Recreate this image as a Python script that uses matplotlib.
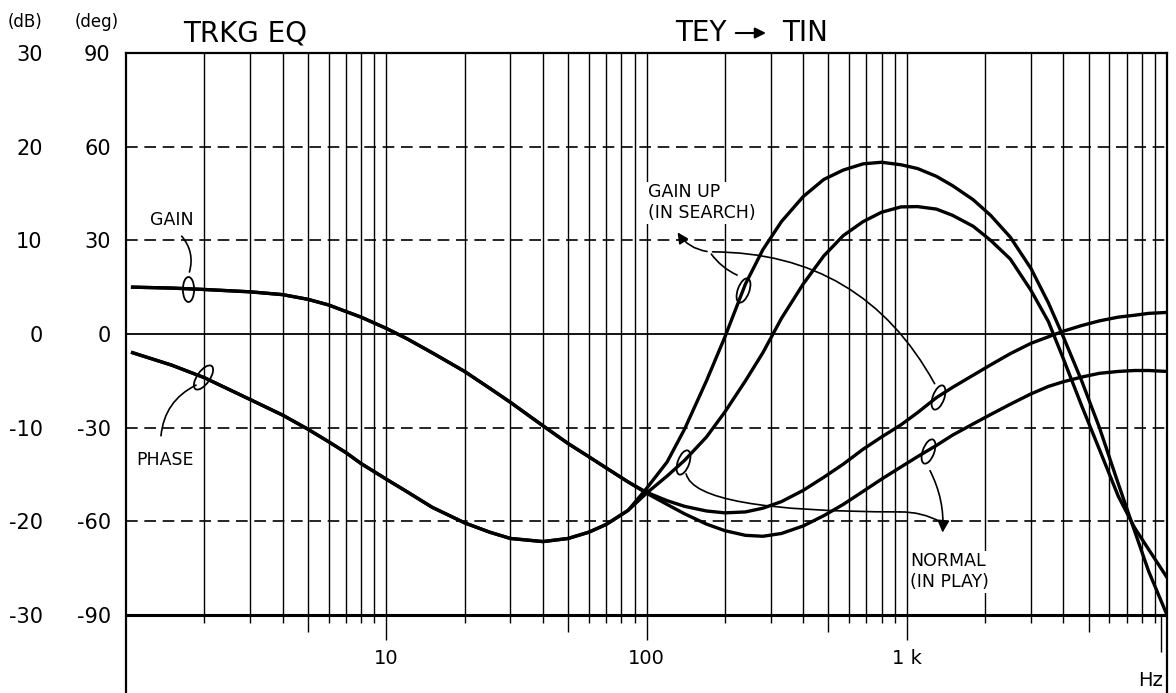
import numpy as np
import matplotlib.pyplot as plt
from matplotlib.path import Path
from matplotlib.transforms import Affine2D

# frequency points (Hz) shared by all four curves
freq = [1.06, 1.5, 2, 3, 4, 5, 6, 7, 8, 10, 12, 15, 20, 25, 30, 40, 50, 60, 70, 85,
        100, 120, 140, 170, 200, 240, 280, 330, 400, 480, 570, 680, 800, 950,
        1100, 1300, 1500, 1800, 2100, 2500, 3000, 3500, 4000, 4700, 5500, 6500,
        7500, 8500, 10000]

# gain (dB)
gain_low = [5.0, 4.9, 4.75, 4.5, 4.2, 3.7, 3.1, 2.4, 1.8, 0.6, -0.5, -2.0, -4.0, -5.8,
            -7.3, -9.8, -11.7, -13.1, -14.3, -15.8]
gain_normal = gain_low + [
    -17.0, -18.2, -19.2, -20.3, -21.0, -21.5, -21.6, -21.3, -20.5, -19.4, -18.2,
    -16.8, -15.5, -14.2, -13.1, -11.9, -10.8, -9.6, -8.6, -7.5, -6.4, -5.6, -5.1,
    -4.6, -4.2, -4.0, -3.9, -3.9, -4.0]
gain_up = gain_low + [
    -16.9, -17.8, -18.4, -18.9, -19.1, -19.0, -18.6, -17.9, -16.7, -15.3, -13.9,
    -12.3, -11.0, -9.7, -8.4, -6.8, -5.7, -4.4, -3.3, -2.1, -1.0, -0.3, 0.3,
    0.9, 1.4, 1.8, 2.0, 2.2, 2.3]

# phase (deg)
phase_low = [-6, -10, -14, -21, -26, -30.5, -34.5, -38, -41.5, -46.5, -50.5, -55.5, -60.5,
             -63.5, -65.5, -66.5, -65.5, -63.5, -61, -56.5]
phase_normal = phase_low + [
    -51, -45.5, -40.5, -33, -25, -15, -6, 5, 16, 25, 31.5, 36, 39, 40.7, 40.8, 40,
    38, 34.5, 30, 24, 14, 4, -8, -23, -37, -52, -62, -69, -78]
phase_up = phase_low + [
    -49.5, -41, -30.5, -15, -1, 16, 27, 36, 44, 49.5, 52.5, 54.5, 55, 54.2, 53, 50.5,
    47.5, 43, 38, 31, 21, 10, -1, -15, -30, -48, -63, -76, -90]

deg_ticks = [90, 60, 30, 0, -30, -60, -90]
db_ticks = [30, 20, 10, 0, -10, -20, -30]
decade_labels = {10: '10', 100: '100', 1000: '1 k'}

fig = plt.figure(figsize=(11.76, 6.93), dpi=100)
ax = fig.add_axes([126 / 1176, 0, 1041 / 1176, 640 / 693])
ax.set_xscale('log')
ax.set_xlim(1, 1e4)
ax.set_ylim(-115, 90)
ax.spines['bottom'].set_visible(False)
for s in ['top', 'left', 'right']:
    ax.spines[s].set_linewidth(1.6)
ax.tick_params(axis='x', which='both', length=0, labelbottom=False)

# vertical grid with short ticks under the -90 line
for dec in [1, 10, 100, 1000]:
    for m in range(1, 10):
        f = m * dec
        if f <= 1 or f >= 1e4:
            continue
        ax.vlines(f, -90, 90, color='black', lw=1.0, zorder=1)
        low = -98 if m == 1 else (-95.5 if m == 5 else -92.5)
        ax.vlines(f, low, -90, color='black', lw=1.0, zorder=1)
for f, lab in decade_labels.items():
    ax.text(f, -104, lab, ha='center', va='center', fontsize=14)
ax.text(8650, -111, 'Hz', ha='center', va='center', fontsize=14)
ax.vlines(9500, -90, -102, color='black', lw=1.0)

# horizontal grid
for y in [60, 30, -30, -60]:
    ax.axhline(y, color='black', lw=1.2, dashes=(7, 4), zorder=1)
ax.axhline(0, color='black', lw=1.3, zorder=1)
ax.axhline(-90, color='black', lw=2.2, zorder=1)

ax.set_yticks(deg_ticks)
ax.set_yticklabels([str(v) for v in deg_ticks])
ax.tick_params(axis='y', length=0, pad=11, labelsize=15)

# gain on its own dB scale, same vertical extent
ax2 = ax.twinx()
ax2.set_ylim(-115 / 3, 30)
for s in ax2.spines.values():
    s.set_visible(False)
ax2.yaxis.tick_left()
ax2.set_yticks(db_ticks)
ax2.set_yticklabels([str(v) for v in db_ticks])
ax2.tick_params(axis='y', length=0, pad=60, labelsize=15)

lw = 2.4
ax.plot(freq, phase_normal, color='black', lw=lw, zorder=4)
ax.plot(freq, phase_up, color='black', lw=lw, zorder=4)
ax2.plot(freq, gain_normal, color='black', lw=lw, zorder=4)
ax2.plot(freq, gain_up, color='black', lw=lw, zorder=4)


def oval(angle=0):
    return Path.unit_circle().transformed(Affine2D().scale(0.45, 1).rotate_deg(angle))


def on_curve(f, xs, ys):
    return np.interp(np.log10(f), np.log10(xs), ys)


ring = dict(color='black', ls='none', markersize=18, markerfacecolor='none',
            markeredgewidth=1.3, zorder=6)
ax2.plot(1.73, on_curve(1.73, freq, gain_normal), marker=oval(), **ring)
ax.plot(1.98, on_curve(1.98, freq, phase_normal), marker=oval(-35), **ring)
ax.plot(235, on_curve(235, freq, phase_up), marker=oval(-20), **ring)
ax2.plot(1316, on_curve(1316, freq, gain_up), marker=oval(-20), **ring)
ax.plot(138, on_curve(138, freq, phase_normal), marker=oval(-20), **ring)
ax2.plot(1205, on_curve(1205, freq, gain_normal), marker=oval(-20), **ring)

box = dict(facecolor='white', edgecolor='none', pad=1)
thin = dict(arrowstyle='-', color='black', lw=1.2)

ax.text(1.50, 36.5, 'GAIN', ha='center', va='center', fontsize=12.5, bbox=box, zorder=3)
ax.annotate('', xy=(1.74, 19), xytext=(1.61, 32),
            arrowprops=dict(connectionstyle='arc3,rad=-0.3', **thin))
ax.text(1.41, -40.4, 'PHASE', ha='center', va='center', fontsize=12.5, bbox=box, zorder=3)
ax.annotate('', xy=(1.90, -16), xytext=(1.36, -33.5),
            arrowprops=dict(connectionstyle='arc3,rad=-0.3', **thin))

ax.text(101, 42, 'GAIN UP\n(IN SEARCH)', ha='left', va='center', fontsize=12.5,
        linespacing=1.2, bbox=box, zorder=3)
ax.annotate('', xy=(130, 33.3), xytext=(175, 26.3),
            arrowprops=dict(arrowstyle='-|>', color='black', lw=1.2, mutation_scale=16,
                            connectionstyle='arc3,rad=-0.25'))
ax.annotate('', xy=(228, 18.5), xytext=(175, 26.3),
            arrowprops=dict(connectionstyle='arc3,rad=0.15', **thin))
ax.annotate('', xy=(1295, -16.7), xytext=(175, 26.3),
            arrowprops=dict(connectionstyle='arc3,rad=-0.3', **thin))

ax.text(1032, -76.2, 'NORMAL\n(IN PLAY)', ha='left', va='center', fontsize=12.5,
        linespacing=1.2, bbox=box, zorder=3)
ax.annotate('', xy=(1370, -64.5), xytext=(1215, -43),
            arrowprops=dict(arrowstyle='-|>', color='black', lw=1.2, mutation_scale=18,
                            connectionstyle='arc3,rad=-0.15'))
# leader from the lower ring: drops, runs right, then joins the arrow shaft
ax.annotate('', xy=(942, -57), xytext=(142, -44.8),
            arrowprops=dict(connectionstyle='angle3,angleA=-77,angleB=0',
                            shrinkA=0, shrinkB=0, **thin))
ax.annotate('', xy=(1350, -60.2), xytext=(942, -57),
            arrowprops=dict(connectionstyle='arc3,rad=-0.13',
                            shrinkA=0, shrinkB=0, **thin))

# titles above the frame
ax.text(2.87, 96.4, 'TRKG EQ', ha='center', va='center', fontsize=20, clip_on=False)
ax.text(162, 96.4, 'TEY', ha='center', va='center', fontsize=20, clip_on=False)
ax.text(406, 96.4, 'TIN', ha='center', va='center', fontsize=20, clip_on=False)
ax.annotate('', xy=(295, 96.4), xytext=(215, 96.4), annotation_clip=False,
            arrowprops=dict(arrowstyle='-|>', color='black', lw=1.5, mutation_scale=16))
fig.text(25 / 1176, 1 - 22 / 693, '(dB)', ha='center', va='center', fontsize=12)
fig.text(97 / 1176, 1 - 22 / 693, '(deg)', ha='center', va='center', fontsize=12)

fig.savefig('out.png', dpi=100)
